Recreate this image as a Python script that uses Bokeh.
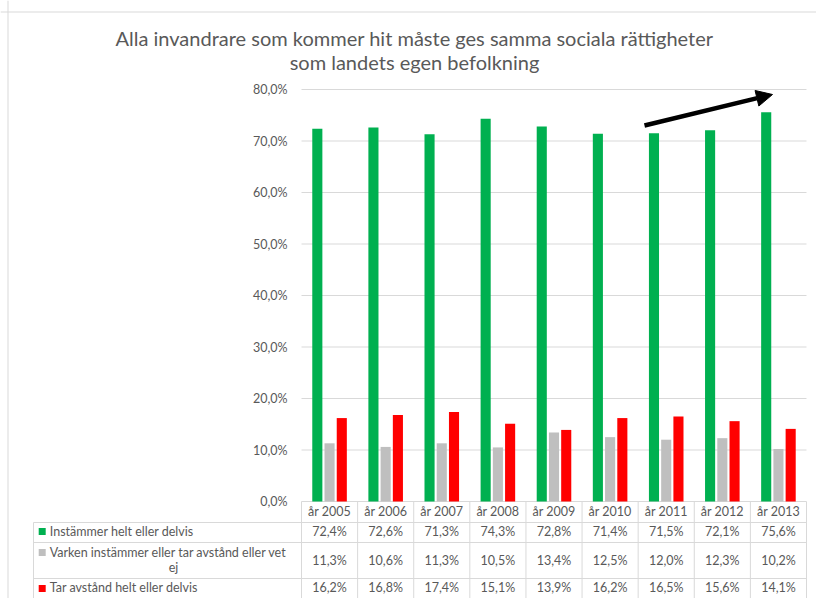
from bokeh.plotting import figure
from bokeh.models import Range1d, LinearAxis, FixedTicker, Span, Label, Arrow, NormalHead
from bokeh.embed import file_html
from bokeh.resources import INLINE
from bokeh.core.properties import value

# ---------------- data ----------------
TITLE_LINES = ["Alla invandrare som kommer hit måste ges samma sociala rättigheter",
               "som landets egen befolkning"]
YEARS = ["år 2005", "år 2006", "år 2007", "år 2008", "år 2009",
         "år 2010", "år 2011", "år 2012", "år 2013"]
SERIES = ["Instämmer helt eller delvis",
          "Varken instämmer eller tar avstånd eller vet ej",
          "Tar avstånd helt eller delvis"]
AGREE = [72.4, 72.6, 71.3, 74.3, 72.8, 71.4, 71.5, 72.1, 75.6]
NEITHER = [11.3, 10.6, 11.3, 10.5, 13.4, 12.5, 12.0, 12.3, 10.2]
DISAGREE = [16.2, 16.8, 17.4, 15.1, 13.9, 16.2, 16.5, 15.6, 14.1]
Y_TICKS = [0, 10, 20, 30, 40, 50, 60, 70, 80]
Y_TICK_LABELS = ["0,0%", "10,0%", "20,0%", "30,0%", "40,0%",
                 "50,0%", "60,0%", "70,0%", "80,0%"]

# ---------------- styles / layout ----------------
COLORS = ["#00B050", "#BFBFBF", "#FF0000"]
TEXT = "#595959"
LINE = "#D9D9D9"
FONT = "Lato"
FS = "12.5px"

W, H = 816, 598
CAT_PX = 56.11          # px per category
PCT_PX = 5.15           # px per percentage point
X0, Y0 = 301, 501       # pixel position of (0, 0%)


def fx(px):
    return (px - X0) / CAT_PX


def fy(py):
    return (Y0 - py) / PCT_PX


n = len(YEARS)
p = figure(width=W, height=H, output_backend="svg", toolbar_location=None,
           x_range=Range1d(fx(0), fx(W)), y_range=Range1d(fy(H), fy(0)),
           x_axis_location=None, y_axis_location=None, min_border=0,
           outline_line_color=None, background_fill_color="white",
           border_fill_color="white")
p.xgrid.visible = False
p.ygrid.visible = False

# chart border (top / left)
p.add_layout(Span(location=fy(11.5), dimension="width", line_color=LINE, line_width=1))
p.add_layout(Span(location=fx(7.5), dimension="height", line_color=LINE, line_width=1))

# gridlines
p.segment(x0=[0] * len(Y_TICKS), x1=[n] * len(Y_TICKS), y0=Y_TICKS, y1=Y_TICKS,
          line_color=LINE, line_width=1)

# y axis
ax = LinearAxis(fixed_location=0, ticker=FixedTicker(ticks=Y_TICKS),
                major_label_overrides={t: l for t, l in zip(Y_TICKS, Y_TICK_LABELS)},
                axis_line_color=None, major_tick_line_color=None,
                minor_tick_line_color=None, major_tick_out=0, major_tick_in=0,
                major_label_standoff=14, major_label_text_font=FONT,
                major_label_text_font_size=FS, major_label_text_color=TEXT)
p.add_layout(ax, "left")

# bars
OFFSETS = [-0.218, 0.0, 0.218]
for k, vals in enumerate([AGREE, NEITHER, DISAGREE]):
    p.vbar(x=[i + 0.5 + OFFSETS[k] for i in range(n)], top=vals, bottom=0,
           width=0.18, fill_color=COLORS[k], line_color=None)

# ---------------- data table ----------------
row_lines = [fy(522), fy(542), fy(578)]
table_left = fx(33)
bottom = fy(H + 10)
# vertical lines at category boundaries
p.segment(x0=list(range(n + 1)), x1=list(range(n + 1)),
          y0=[0] * (n + 1), y1=[bottom] * (n + 1), line_color=LINE, line_width=1)
# left border of label column
p.segment(x0=[table_left], x1=[table_left], y0=[row_lines[0]], y1=[bottom],
          line_color=LINE, line_width=1)
# horizontal row lines
p.segment(x0=[table_left] * 3, x1=[n] * 3, y0=row_lines, y1=row_lines,
          line_color=LINE, line_width=1)

# header (years)
p.text(x=[i + 0.5 for i in range(n)], y=[fy(510.7)] * n, text=YEARS,
       text_align="center", text_baseline="middle", text_font=value(FONT),
       text_font_size=FS, text_color=TEXT)

row_text_y = [fy(531.3), fy(559.5), fy(587)]
for k, vals in enumerate([AGREE, NEITHER, DISAGREE]):
    labels = [f"{v:.1f}%".replace(".", ",") for v in vals]
    p.text(x=[i + 0.5 for i in range(n)], y=[row_text_y[k]] * n, text=labels,
           text_align="center", text_baseline="middle", text_font=value(FONT),
           text_font_size=FS, text_color=TEXT)

# legend keys
key_y = [fy(531), fy(552), fy(588)]
p.scatter(x=[fx(41.7)] * 3, y=key_y, marker="square", size=7,
          fill_color=COLORS, line_color=None)

# row labels (wrap the long one)
label_y = [fy(531.3), fy(551.7), fy(587)]
for k, name in enumerate(SERIES):
    if len(name) > 40:
        first, rest = name.rsplit(" ", 1)
        p.text(x=[fx(49.3)], y=[label_y[k]], text=[first], text_align="left",
               text_baseline="middle", text_font=value(FONT), text_font_size=FS,
               text_color=TEXT)
        p.text(x=[fx(173)], y=[fy(566.7)], text=[rest], text_align="center",
               text_baseline="middle", text_font=value(FONT), text_font_size=FS,
               text_color=TEXT)
    else:
        p.text(x=[fx(49.3)], y=[label_y[k]], text=[name], text_align="left",
               text_baseline="middle", text_font=value(FONT), text_font_size=FS,
               text_color=TEXT)

# title
for j, line in enumerate(TITLE_LINES):
    p.add_layout(Label(x=fx(414), y=fy(37 + 24 * j), text=line, text_align="center",
                       text_baseline="middle", text_font=FONT, text_font_size="20px",
                       text_color=TEXT))

# arrow annotation
p.add_layout(Arrow(end=NormalHead(size=16, fill_color="black", line_color="black"),
                   x_start=fx(644), y_start=fy(125), x_end=fx(772), y_end=fy(94),
                   line_color="black", line_width=4.5))

open("out.html", "w").write(file_html(p, INLINE))
